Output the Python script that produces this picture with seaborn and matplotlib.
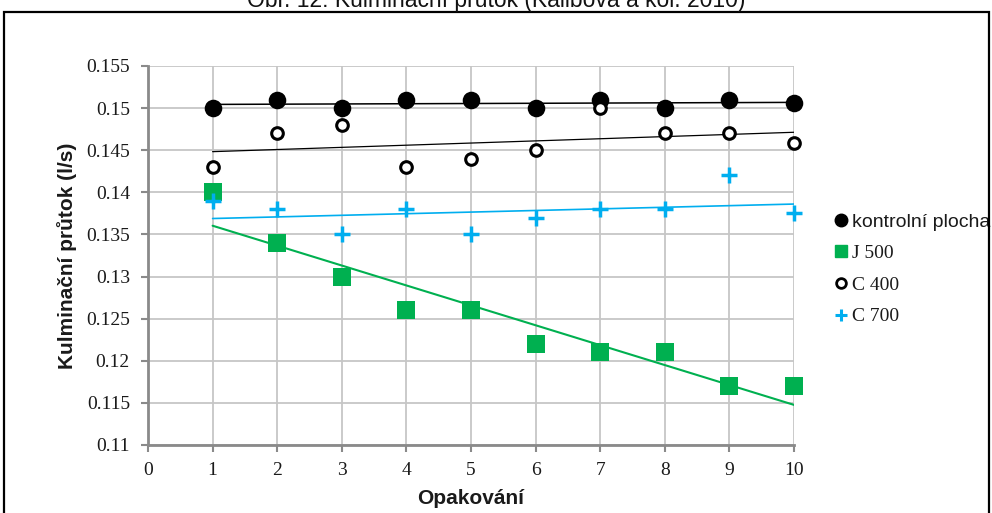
import numpy as np
import pandas as pd
import matplotlib.pyplot as plt
import seaborn as sns
from matplotlib.lines import Line2D
from matplotlib.patches import Rectangle
from matplotlib.ticker import FuncFormatter, MultipleLocator

# values
opakovani = [1, 2, 3, 4, 5, 6, 7, 8, 9, 10]
kontrolni_plocha = [0.150, 0.151, 0.150, 0.151, 0.151, 0.150, 0.151, 0.150, 0.151, 0.1506]
j500 = [0.140, 0.134, 0.130, 0.126, 0.126, 0.122, 0.121, 0.121, 0.117, 0.117]
c400 = [0.143, 0.147, 0.148, 0.143, 0.144, 0.145, 0.150, 0.147, 0.147, 0.1458]
c700 = [0.139, 0.138, 0.135, 0.138, 0.135, 0.137, 0.138, 0.138, 0.142, 0.1375]
varianty = ["kontrolní plocha", "J 500", "C 400", "C 700"]

df = pd.DataFrame({
    "Opakování": opakovani * 4,
    "Prutok": kontrolni_plocha + j500 + c400 + c700,
    "Varianta": np.repeat(varianty, len(opakovani)),
})

sns.set_theme(style="whitegrid")
plt.rcParams["font.family"] = ["Liberation Serif", "DejaVu Serif"]

GREEN = "#00B050"
BLUE = "#00AEEF"

# marker + trend line style per series
styles = {
    "kontrolní plocha": dict(marker="o", s=160, color="black", edgecolor="black", linewidth=0, line="black", lw=1.1),
    "J 500": dict(marker="s", s=180, color=GREEN, edgecolor=GREEN, linewidth=0, line=GREEN, lw=1.5),
    "C 400": dict(marker="o", s=70, color="white", edgecolor="black", linewidth=2.2, line="black", lw=0.9),
    "C 700": dict(marker="+", s=130, color=BLUE, edgecolor=BLUE, linewidth=2.5, line=BLUE, lw=1.2),
}

fig = plt.figure(figsize=(9.92, 5.13), dpi=100)
ax = fig.add_axes([148 / 992, 1 - 445 / 513, 646 / 992, 379 / 513])

# linear trend lines first, markers on top
for name in varianty:
    st = styles[name]
    sub = df[df["Varianta"] == name]
    sns.regplot(data=sub, x="Opakování", y="Prutok", scatter=False, ci=None,
                truncate=True, color=st["line"], line_kws={"lw": st["lw"], "zorder": 2}, ax=ax)

for name in varianty:
    st = styles[name]
    sub = df[df["Varianta"] == name]
    sns.scatterplot(data=sub, x="Opakování", y="Prutok", marker=st["marker"], s=st["s"],
                    color=st["color"], edgecolor=st["edgecolor"], linewidth=st["linewidth"],
                    zorder=3, clip_on=False, ax=ax)

ax.set_xlim(0, 10)
ax.set_ylim(0.11, 0.155)
ax.xaxis.set_major_locator(MultipleLocator(1))
ax.yaxis.set_major_locator(MultipleLocator(0.005))
ax.yaxis.set_major_formatter(FuncFormatter(lambda v, p: f"{v:g}"))

ax.grid(True, color="#C6C6C6", lw=1.3)
ax.set_facecolor("white")
for side in ["top", "right"]:
    ax.spines[side].set_visible(False)
for side in ["left", "bottom"]:
    ax.spines[side].set_color("#8A8A8A")
    ax.spines[side].set_linewidth(2)
ax.tick_params(axis="both", which="major", bottom=True, left=True, direction="out",
               length=5, width=1.5, color="#8A8A8A", labelsize=14, labelcolor="#1a1a1a")
ax.tick_params(axis="y", pad=8)
ax.tick_params(axis="x", pad=7)

ax.set_xlabel("Opakování", fontsize=15, fontweight="bold", family="Liberation Sans", color="#1a1a1a")
ax.set_ylabel("Kulminační průtok (l/s)", fontsize=15, fontweight="bold", family="Liberation Sans", color="#1a1a1a")
ax.xaxis.set_label_coords(0.5, -0.117)
ax.yaxis.set_label_coords(-0.11, 0.5)

# legend outside the plot area
handles = [
    Line2D([], [], ls="none", marker="o", ms=9, color="black"),
    Line2D([], [], ls="none", marker="s", ms=9, color=GREEN),
    Line2D([], [], ls="none", marker="o", ms=7, mfc="white", mec="black", mew=2),
    Line2D([], [], ls="none", marker="+", ms=9, color=BLUE, mew=2.2),
]
leg = ax.legend(handles, varianty, loc="upper left", bbox_to_anchor=(834 / 992, 1 - 213 / 513),
                bbox_transform=fig.transFigure, frameon=False, fontsize=14,
                handlelength=0.7, handletextpad=0.25, labelspacing=0.72, borderpad=0, borderaxespad=0)
for i, t in enumerate(leg.get_texts()):
    t.set_color("#1a1a1a")
    if i == 0:
        t.set_family("Liberation Sans")

# title clipped at the top edge + frame
fig.text(0.5, 1 - 7 / 513, "Obr. 12: Kulminační průtok (Kalibová a kol. 2010)",
         ha="center", va="baseline", fontsize=16.5, family="Liberation Sans", color="#111111")
fig.patches.append(Rectangle((4 / 992, -0.05), 985 / 992, 1.05 - 12 / 513, transform=fig.transFigure,
                             fill=False, ec="black", lw=1.6, clip_on=False))

fig.savefig("out.png", dpi=100)
